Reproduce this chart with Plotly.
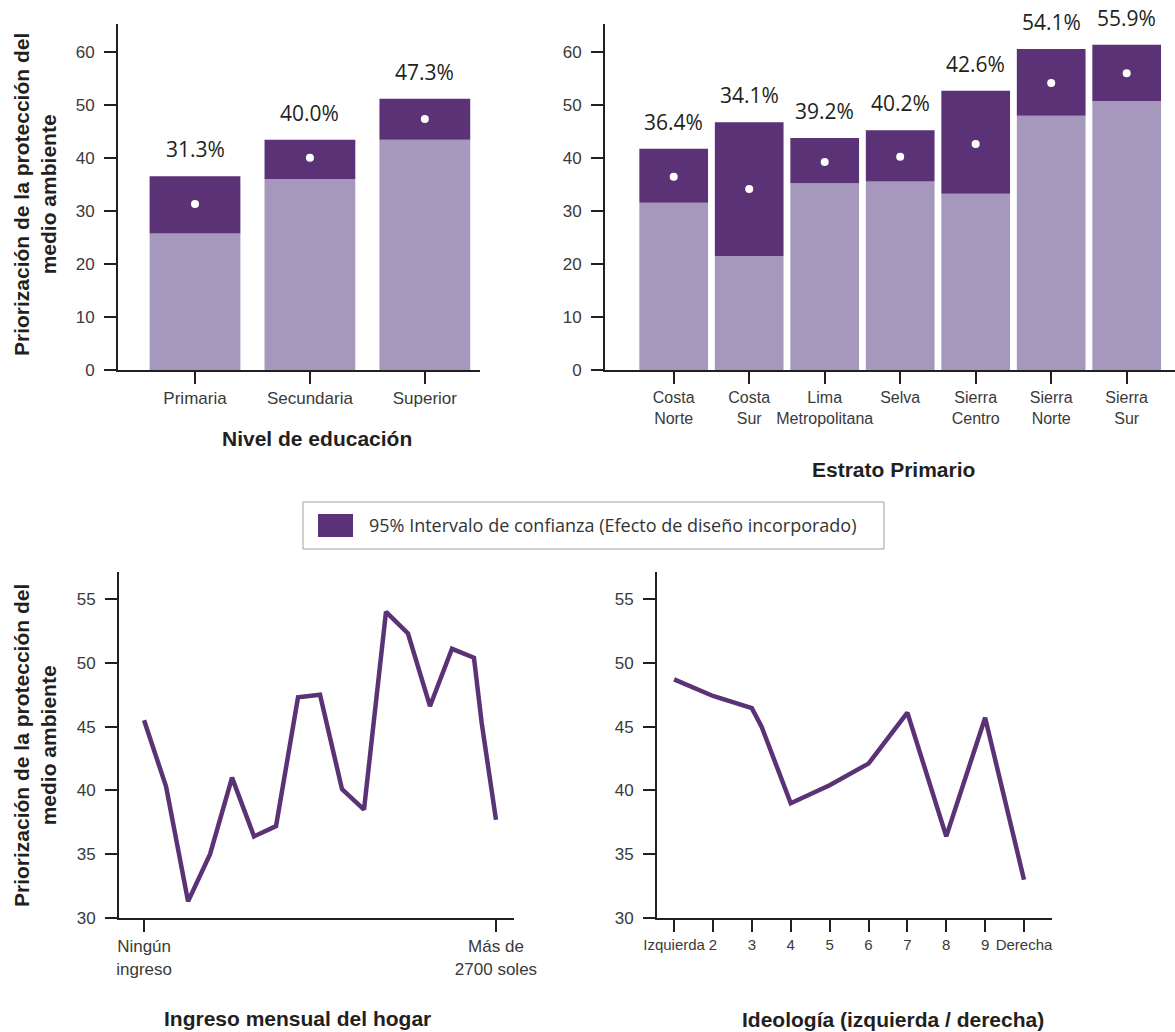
import plotly.graph_objects as go
from plotly.subplots import make_subplots

W, H = 1175, 1032

# data
edu_cats = ["Primaria", "Secundaria", "Superior"]
edu_low = [25.7, 36.0, 43.4]
edu_high = [36.5, 43.4, 51.1]
edu_mean = [31.3, 40.0, 47.3]

strata_cats = ["Costa<br>Norte", "Costa<br>Sur", "Lima<br>Metropolitana", "Selva",
               "Sierra<br>Centro", "Sierra<br>Norte", "Sierra<br>Sur"]
strata_low = [31.5, 21.5, 35.2, 35.5, 33.2, 47.9, 50.7]
strata_high = [41.7, 46.7, 43.7, 45.2, 52.6, 60.5, 61.3]
strata_mean = [36.4, 34.1, 39.2, 40.2, 42.6, 54.1, 55.9]

income_x = [0, 1, 2, 3, 4, 5, 6, 7, 8, 9, 10, 11, 12, 13, 14, 15, 15.35, 16]
income_y = [45.5, 40.3, 31.3, 35.0, 41.0, 36.4, 37.2, 47.3, 47.5, 40.1, 38.5,
            54.0, 52.3, 46.6, 51.1, 50.4, 45.3, 37.7]
income_tickvals = [0, 16]
income_ticktext = ["Ningún<br>ingreso", "Más de<br>2700 soles"]

ideo_x = [0, 1, 2, 2.25, 3, 4, 5, 6, 7, 8, 9]
ideo_y = [48.7, 47.4, 46.45, 45.0, 39.0, 40.4, 42.1, 46.1, 36.4, 45.7, 33.0]
ideo_tickvals = [0, 1, 2, 3, 4, 5, 6, 7, 8, 9]
ideo_ticktext = ["Izquierda", "2", "3", "4", "5", "6", "7", "8", "9", "Derecha"]

DARK = "#5b3276"
LIGHT = "#a697bd"
INK = "#231f20"
TICKF = dict(family="Liberation Sans Narrow, Arial Narrow, Liberation Sans, sans-serif",
             size=17, color="#3a3a3a")
TITLEF = dict(family="Liberation Sans, Arial, sans-serif", size=21, color=INK)
LABELF = dict(family="Open Sans, sans-serif", size=21, color=INK)


def px(xp):
    return xp / W


def py(yp):
    return 1 - yp / H


fig = make_subplots(rows=2, cols=2)

# bars: top left
fig.add_trace(go.Bar(x=edu_cats, y=edu_low, marker_color=LIGHT, width=0.79,
                     marker_line_width=0), row=1, col=1)
fig.add_trace(go.Bar(x=edu_cats, y=[h - l for h, l in zip(edu_high, edu_low)],
                     base=edu_low, marker_color=DARK, width=0.79,
                     marker_line_width=0), row=1, col=1)
fig.add_trace(go.Scatter(x=edu_cats, y=edu_mean, mode="markers",
                         marker=dict(color="white", size=8)), row=1, col=1)

# bars: top right
fig.add_trace(go.Bar(x=strata_cats, y=strata_low, marker_color=LIGHT, width=0.91,
                     marker_line_width=0), row=1, col=2)
fig.add_trace(go.Bar(x=strata_cats, y=[h - l for h, l in zip(strata_high, strata_low)],
                     base=strata_low, marker_color=DARK, width=0.91,
                     marker_line_width=0), row=1, col=2)
fig.add_trace(go.Scatter(x=strata_cats, y=strata_mean, mode="markers",
                         marker=dict(color="white", size=8)), row=1, col=2)

# lines
fig.add_trace(go.Scatter(x=income_x, y=income_y, mode="lines",
                         line=dict(color=DARK, width=4.5)), row=2, col=1)
fig.add_trace(go.Scatter(x=ideo_x, y=ideo_y, mode="lines",
                         line=dict(color=DARK, width=4.5)), row=2, col=2)

ax_common = dict(showline=True, linecolor=INK, linewidth=2, ticks="outside",
                 ticklen=12, tickwidth=1.5, tickcolor=INK, tickfont=TICKF,
                 showgrid=False, zeroline=False, automargin=False, tickangle=0)

fig.update_layout(
    width=W, height=H, margin=dict(l=0, r=0, t=0, b=0),
    paper_bgcolor="white", plot_bgcolor="white",
    showlegend=False, barmode="overlay",
    xaxis=dict(ax_common, domain=[px(118), px(480)], range=[-0.67, 2.48]),
    yaxis=dict(ax_common, domain=[py(370), py(24)], range=[0, 65.2],
               tickvals=[0, 10, 20, 30, 40, 50, 60], ticklabelstandoff=6),
    xaxis2=dict(ax_common, domain=[px(605), px(1175)], range=[-0.91, 6.64]),
    yaxis2=dict(ax_common, domain=[py(370), py(24)], range=[0, 65.2],
                tickvals=[0, 10, 20, 30, 40, 50, 60], ticklabelstandoff=6),
    xaxis3=dict(ax_common, domain=[px(119), px(514)], range=[-1.14, 16.82],
                tickvals=income_tickvals, ticktext=income_ticktext),
    yaxis3=dict(ax_common, domain=[py(918), py(572)], range=[30, 57.12],
                tickvals=[30, 35, 40, 45, 50, 55], ticklabelstandoff=6),
    xaxis4=dict(ax_common, domain=[px(657), px(1052)], range=[-0.44, 9.72],
                tickvals=ideo_tickvals, ticktext=ideo_ticktext,
                tickfont=dict(TICKF, size=15)),
    yaxis4=dict(ax_common, domain=[py(918), py(572)], range=[30, 57.12],
                tickvals=[30, 35, 40, 45, 50, 55], ticklabelstandoff=6),
)
fig.update_layout(xaxis2_tickfont=dict(TICKF, size=16))

ann = []
for c, hi, m in zip(edu_cats, edu_high, edu_mean):
    ann.append(dict(x=c, y=hi, xref="x", yref="y", text=f"{m:.1f}%", yshift=27,
                    showarrow=False, font=LABELF))
for c, hi, m in zip(strata_cats, strata_high, strata_mean):
    ann.append(dict(x=c, y=hi, xref="x2", yref="y2", text=f"{m:.1f}%", yshift=27,
                    showarrow=False, font=LABELF))

ytitle = "<b>Priorización de la protección del<br>medio ambiente</b>"
for yc in (195, 746):
    ann.append(dict(x=px(35), y=py(yc), xref="paper", yref="paper", text=ytitle,
                    textangle=-90, showarrow=False, xanchor="center", yanchor="middle",
                    font=TITLEF))

for text, xc, yc in [("Nivel de educación", 317, 438),
                     ("Estrato Primario", 893, 470),
                     ("Ingreso mensual del hogar", 297, 1018),
                     ("Ideología (izquierda / derecha)", 893, 1019)]:
    ann.append(dict(x=px(xc), y=py(yc), xref="paper", yref="paper",
                    xanchor="center", yanchor="middle",
                    text=f"<b>{text}</b>", showarrow=False, font=TITLEF))

# legend box
ann.append(dict(x=px(367), y=py(525), xref="paper", yref="paper", xanchor="left",
                yanchor="middle",
                text="95% Intervalo de confianza (Efecto de diseño incorporado)",
                showarrow=False,
                font=dict(family="Open Sans, sans-serif", size=18, color="#333333")))
fig.update_layout(annotations=ann)
fig.update_layout(shapes=[
    dict(type="rect", xref="paper", yref="paper", x0=px(303), x1=px(884),
         y0=py(549), y1=py(502), line=dict(color="#a0a0a0", width=1)),
    dict(type="rect", xref="paper", yref="paper", x0=px(318), x1=px(353),
         y0=py(537), y1=py(514), fillcolor=DARK, line=dict(width=0)),
])

# drop the page's default body margin so the figure sits at the window corner
fig.write_html("out.html", config={"displayModeBar": False},
               post_script="document.body.style.margin='0';"
                           "document.body.style.overflow='hidden';")
